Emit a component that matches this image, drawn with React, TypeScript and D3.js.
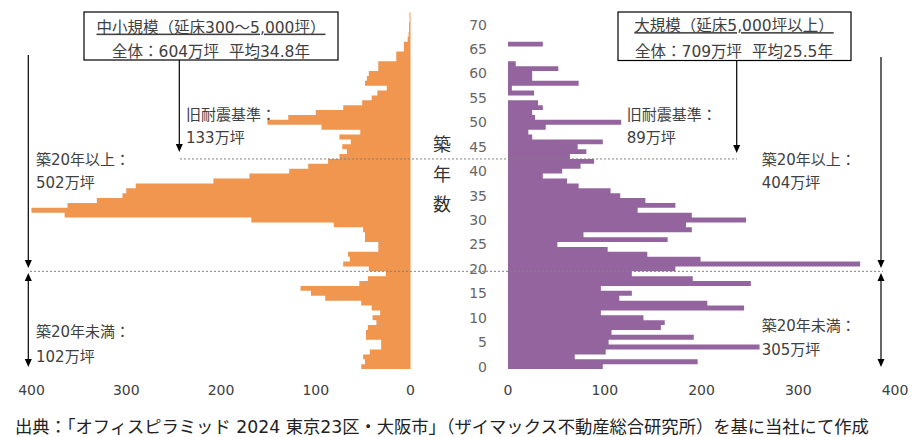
import React from 'react';
import * as d3 from 'd3';

// 中小規模（延床300～5,000坪）: 築年数 0..72 ごとの延床面積（千坪）
const smallValues = [
  52, 48, 50, 43, 31, 31, 47, 47, 45, 36,
  40, 32, 41, 52, 90, 105, 116, 54, 45, 26,
  44, 71, 64, 66, 34, 34, 48, 48, 50, 81,
  168, 365, 400, 362, 331, 304, 300, 290, 208, 170,
  128, 108, 87, 75, 67, 72, 63, 75, 53, 94,
  151, 129, 100, 71, 51, 41, 35, 25, 48, 46,
  44, 34, 34, 15, 15, 7, 7, 3, 2, 1.5,
  1.5, 1, 1,
];

// 大規模（延床5,000坪以上）: 築年数 0..66
const largeValues = [
  98, 196, 69, 101, 260, 104, 192, 107, 158, 162,
  140, 96, 244, 206, 115, 128, 96, 251, 191, 128,
  173, 364, 199, 144, 103, 51, 165, 78, 190, 184,
  246, 190, 134, 173, 142, 116, 106, 73, 61, 36,
  56, 75, 89, 64, 81, 72, 98, 25, 21, 39,
  117, 28, 25, 36, 31, 0, 27, 4, 73, 25,
  25, 52, 8, 0, 0, 0, 36,
];

const yTicks = [0, 5, 10, 15, 20, 25, 30, 35, 40, 45, 50, 55, 60, 65, 70];
const xTicks = [0, 100, 200, 300, 400];

const FONT = '"DejaVu Sans", "Noto Sans CJK JP", sans-serif';
const ORANGE = '#F0964F';
const PURPLE = '#94649F';
const TXT = '#404040';

function Arrow({ x, y1, y2, up = false, down = true }: { x: number; y1: number; y2: number; up?: boolean; down?: boolean }) {
  const hw = 3.5, hh = 8;
  return (
    <g>
      <line x1={x} x2={x} y1={up ? y1 + hh - 1 : y1} y2={down ? y2 - hh + 1 : y2} stroke="#000" strokeWidth={1.2} />
      {down && <polygon points={`${x - hw},${y2 - hh} ${x + hw},${y2 - hh} ${x},${y2}`} fill="#000" />}
      {up && <polygon points={`${x - hw},${y1 + hh} ${x + hw},${y1 + hh} ${x},${y1}`} fill="#000" />}
    </g>
  );
}

export default function App() {
  const W = 921, H = 437;
  const y = d3.scaleLinear().domain([0, 70]).range([366.6, 24.6]);
  const band = Math.abs(y(1) - y(0));
  const xL = d3.scaleLinear().domain([0, 400]).range([410.5, 31.5]);
  const xR = d3.scaleLinear().domain([0, 400]).range([508, 895]);

  const yOld = y(42.5);
  const y20 = y(19.5);

  const barsPath = (vals: number[], x: d3.ScaleLinear<number, number>) => {
    const p = d3.path();
    vals.forEach((v, i) => {
      if (v <= 0) return;
      const x0 = Math.min(x(0), x(v));
      const w = Math.abs(x(v) - x(0));
      p.rect(x0, y(i) - band / 2, w, band);
    });
    return p.toString();
  };

  return (
    <svg width={W} height={H} style={{ position: 'absolute', left: 0, top: 0, background: '#fff' }} fontFamily={FONT}>
      <rect width={W} height={H} fill="#fff" />
      {/* bars */}
      <path d={barsPath(smallValues, xL)} fill={ORANGE} />
      <path d={barsPath(largeValues, xR)} fill={PURPLE} />

      {/* dotted reference lines */}
      <line x1={180} x2={737} y1={yOld} y2={yOld} stroke="#808080" strokeWidth={1} strokeDasharray="2,2" />
      <line x1={30} x2={883} y1={y20} y2={y20} stroke="#808080" strokeWidth={1} strokeDasharray="2,2" />

      {/* y tick labels */}
      {yTicks.map((t) => (
        <text key={'y' + t} x={487} y={y(t)} dy="0.36em" textAnchor="end" fontSize={14} fill="#666">{t}</text>
      ))}
      {/* x tick labels */}
      {xTicks.map((t) => (
        <text key={'xl' + t} x={xL(t)} y={390} dy="0.36em" textAnchor="middle" fontSize={14} fill={TXT}>{t}</text>
      ))}
      {xTicks.map((t) => (
        <text key={'xr' + t} x={xR(t)} y={390} dy="0.36em" textAnchor="middle" fontSize={14} fill={TXT}>{t}</text>
      ))}

      {/* axis title */}
      {['築', '年', '数'].map((c, i) => (
        <text key={c} x={442} y={145 + i * 30} dy="0.36em" textAnchor="middle" fontSize={18} fill="#333">{c}</text>
      ))}

      {/* left box */}
      <rect x={84} y={12} width={254} height={48} fill="#fff" stroke="#000" strokeWidth={1.2} />
      <text x={211} y={27} dy="0.36em" textAnchor="middle" fontSize={15.5} fill={TXT} textDecoration="underline">中小規模（延床300～5,000坪）</text>
      <text x={211} y={51.5} dy="0.36em" textAnchor="middle" fontSize={15.5} fill={TXT} style={{ whiteSpace: 'pre' }}>全体：604万坪  平均34.8年</text>
      <Arrow x={179.3} y1={60} y2={152} />

      {/* right box */}
      <rect x={618} y={12} width={233} height={48.5} fill="#fff" stroke="#000" strokeWidth={1.2} />
      <text x={734} y={25.5} dy="0.36em" textAnchor="middle" fontSize={15.5} fill={TXT} textDecoration="underline">大規模（延床5,000坪以上）</text>
      <text x={734} y={51.5} dy="0.36em" textAnchor="middle" fontSize={15.5} fill={TXT} style={{ whiteSpace: 'pre' }}>全体：709万坪  平均25.5年</text>
      <Arrow x={736.7} y1={60.5} y2={153} />

      {/* left annotations */}
      <text x={186} y={114.3} dy="0.36em" fontSize={15} fill={TXT}>旧耐震基準：</text>
      <text x={186} y={137.7} dy="0.36em" fontSize={15} fill={TXT}>133万坪</text>
      <text x={36} y={160} dy="0.36em" fontSize={15} fill={TXT}>築20年以上：</text>
      <text x={36} y={183} dy="0.36em" fontSize={15} fill={TXT}>502万坪</text>
      <text x={36} y={332} dy="0.36em" fontSize={15} fill={TXT}>築20年未満：</text>
      <text x={36} y={356.5} dy="0.36em" fontSize={15} fill={TXT}>102万坪</text>
      <Arrow x={28.3} y1={55} y2={268} />
      <Arrow x={28.3} y1={273} y2={367} up />

      {/* right annotations */}
      <text x={626.7} y={114.3} dy="0.36em" fontSize={15} fill={TXT}>旧耐震基準：</text>
      <text x={626.7} y={137.7} dy="0.36em" fontSize={15} fill={TXT}>89万坪</text>
      <text x={761.7} y={160} dy="0.36em" fontSize={15} fill={TXT}>築20年以上：</text>
      <text x={761.7} y={183} dy="0.36em" fontSize={15} fill={TXT}>404万坪</text>
      <text x={761.7} y={325.7} dy="0.36em" fontSize={15} fill={TXT}>築20年未満：</text>
      <text x={761.7} y={350} dy="0.36em" fontSize={15} fill={TXT}>305万坪</text>
      <Arrow x={881} y1={57} y2={268} />
      <Arrow x={881} y1={273} y2={367} up />

      {/* footer */}
      <text x={15} y={427} dy="0.36em" fontSize={17.3} fill="#222">出典：「オフィスピラミッド 2024 東京23区・大阪市」（ザイマックス不動産総合研究所）を基に当社にて作成</text>
    </svg>
  );
}
